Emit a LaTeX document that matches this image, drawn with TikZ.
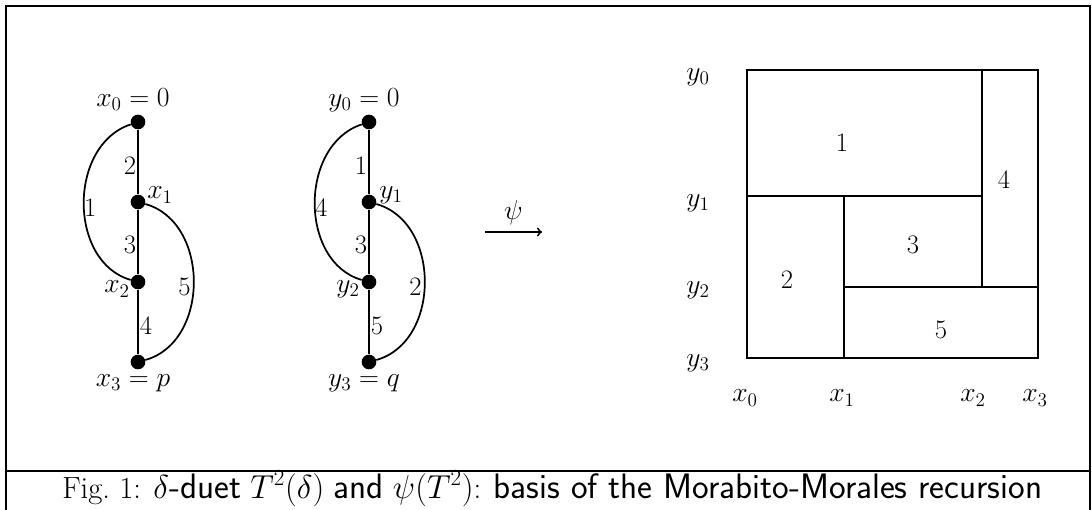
\documentclass[tikz,border=0pt]{standalone}
\newcommand\capsf[1]{{\fontsize{26.5}{30}\selectfont\sffamily #1}}
\begin{document}
\begin{tikzpicture}[x=0.75pt,y=-0.75pt,
  dot/.style={circle,fill,inner sep=0pt,minimum size=11pt},
  lbl/.style={font=\fontsize{20}{24}\selectfont, inner sep=0pt},
  edgeline/.style={line width=1.3pt},
  boxline/.style={line width=1.6pt},
  frameline/.style={line width=1.9pt}]
\useasboundingbox (0,0) rectangle (1092,510);
\begin{scope}
\clip (0,0) rectangle (1092,510);
\draw[frameline] (6,520) -- (6,6) -- (1090,6) -- (1090,520);
\draw[frameline] (6,471) -- (1090,471);
\end{scope}

% left graph
\node[dot] (x0) at (138,122) {};
\node[dot] (x1) at (138,202) {};
\node[dot] (x2) at (138,282) {};
\node[dot] (x3) at (138,362) {};
\node[lbl] (lx0) at (133,100) {$x_0=0$};
\node[lbl] (lx1) at (160,195) {$x_1$};
\node[lbl] (lx2) at (117,289) {$x_2$};
\node[lbl] (lx3) at (133,383) {$x_3=p$};
\draw[edgeline] (x0) -- node[lbl,pos=.56,xshift=-6pt]{2} (x1);
\draw[edgeline] (x1) -- node[lbl,pos=.54,xshift=-6pt]{3} (x2);
\draw[edgeline] (x2) -- node[lbl,pos=.56,xshift=6pt]{4} (x3);
\draw[edgeline] (x0) .. controls (68,145) and (68,262) .. node[lbl,pos=.5,xshift=5pt,yshift=-3.5pt]{1} (x2);
\draw[edgeline] (x1) .. controls (210,222) and (210,342) .. node[lbl,pos=.5,xshift=-7pt,yshift=-3.5pt]{5} (x3);

% right graph
\node[dot] (y0) at (369,122) {};
\node[dot] (y1) at (369,202) {};
\node[dot] (y2) at (369,282) {};
\node[dot] (y3) at (369,362) {};
\node[lbl] (ly0) at (364,100) {$y_0=0$};
\node[lbl] (ly1) at (391,195) {$y_1$};
\node[lbl] (ly2) at (348,289) {$y_2$};
\node[lbl] (ly3) at (364,383) {$y_3=q$};
\draw[edgeline] (y0) -- node[lbl,pos=.56,xshift=-6pt]{1} (y1);
\draw[edgeline] (y1) -- node[lbl,pos=.54,xshift=-6pt]{3} (y2);
\draw[edgeline] (y2) -- node[lbl,pos=.56,xshift=6pt]{5} (y3);
\draw[edgeline] (y0) .. controls (299,145) and (299,262) .. node[lbl,pos=.5,xshift=5pt,yshift=-3.5pt]{4} (y2);
\draw[edgeline] (y1) .. controls (441,222) and (441,342) .. node[lbl,pos=.5,xshift=-7pt,yshift=-3.5pt]{2} (y3);

% arrow psi
\coordinate (a1) at (485,232);
\coordinate (a2) at (542,232);
\draw[line width=1.4pt,->] (a1) -- node[lbl,above=5pt]{$\psi$} (a2);

% rectangle dissection
\coordinate (r00) at (747,70);
\coordinate (r33) at (1038,358);
\draw[boxline] (r00) rectangle (r33);
\draw[boxline] (747,196) -- (982,196);
\draw[boxline] (982,70) -- (982,287);
\draw[boxline] (844,196) -- (844,358);
\draw[boxline] (844,287) -- (1038,287);
\node[lbl] (n1) at (842,143) {1};
\node[lbl] (n4) at (1004,180) {4};
\node[lbl] (n3) at (913,245) {3};
\node[lbl] (n2) at (787,280) {2};
\node[lbl] (n5) at (941,330) {5};
\node[lbl] (gy0) at (698,77) {$y_0$};
\node[lbl] (gy1) at (698,203) {$y_1$};
\node[lbl] (gy2) at (698,290) {$y_2$};
\node[lbl] (gy3) at (698,363) {$y_3$};
\node[lbl] (gx0) at (745,398) {$x_0$};
\node[lbl] (gx1) at (842,398) {$x_1$};
\node[lbl] (gx2) at (973,398) {$x_2$};
\node[lbl] (gx3) at (1035,398) {$x_3$};

% caption
\node[inner sep=0pt,anchor=base west,font=\fontsize{23}{28}\selectfont] (cap) at (62,498)
  {Fig.~1: $\delta$\capsf{-duet} $T^2(\delta)$ \capsf{and} $\psi(T^2)$: \capsf{basis of the Morabito-Morales recursion}};
\end{tikzpicture}
\end{document}
